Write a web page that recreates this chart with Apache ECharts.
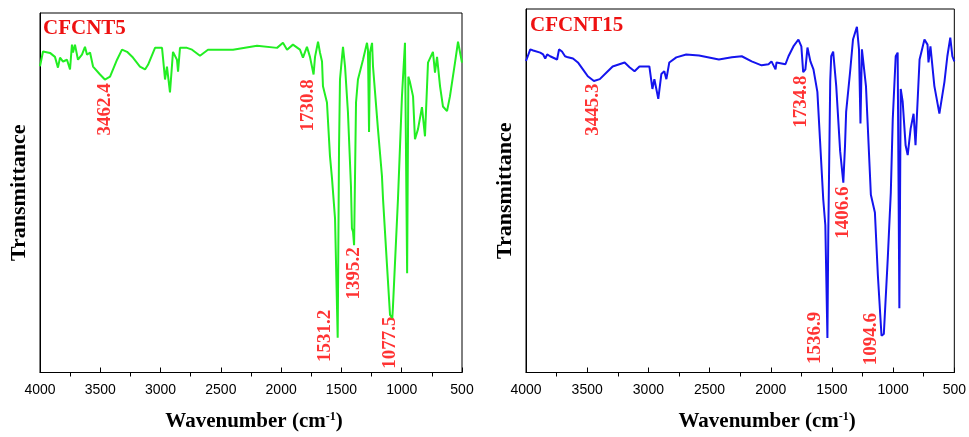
<!DOCTYPE html>
<html>
<head>
<meta charset="utf-8">
<title>FTIR CFCNT5 / CFCNT15</title>
<script src="https://cdn.jsdelivr.net/npm/echarts@6/dist/echarts.min.js"></script>
<style>
    html, body {margin: 0; padding: 0; background: #fff;}
    #chart {width: 969px; height: 437px;}
</style>
</head>
<body>
<div id="chart"></div>
<script>
// 曲线数据：波数 (cm-1) 和透过率(任意单位, 0-100)
var wn5 = [4000, 3975, 3917, 3876, 3851, 3834, 3809, 3776, 3751, 3735, 3726, 3710, 3685, 3652, 3627, 3610, 3585, 3560, 3502, 3462,
    3419, 3361, 3320, 3278, 3229, 3171, 3129, 3104, 3046, 2988, 2980, 2963, 2947, 2922, 2897, 2864, 2855, 2839, 2781, 2739,
    2673, 2607, 2399, 2200, 2034, 1985, 1951, 1902, 1844, 1819, 1786, 1761, 1731, 1719, 1694, 1678, 1661, 1653, 1620, 1595,
    1578, 1553, 1531, 1520, 1512, 1495, 1487, 1470, 1446, 1421, 1413, 1404, 1395, 1379, 1363, 1321, 1288, 1280, 1271, 1263,
    1246, 1238, 1197, 1164, 1155, 1122, 1097, 1078, 1073, 1031, 998, 973, 962, 955, 945, 931, 906, 890, 865, 832,
    807, 782, 741, 724, 707, 682, 658, 624, 600, 558, 533, 500];
var t5 = [85.2, 89.3, 88.9, 87.8, 84.8, 87.6, 86.5, 87.0, 84.3, 91.2, 89.0, 91.2, 87.0, 88.4, 90.6, 88.4, 89.0, 85.1, 82.9, 81.5,
    82.3, 87.0, 89.8, 89.2, 87.6, 85.1, 84.3, 85.6, 90.3, 90.3, 87.6, 81.5, 85.1, 77.9, 89.2, 87.0, 83.7, 90.3, 90.3, 89.8,
    88.1, 89.8, 89.8, 90.9, 90.3, 91.7, 89.8, 91.2, 89.8, 87.6, 90.6, 87.8, 82.9, 87.8, 92.0, 89.0, 86.5, 79.6, 75.1, 60.2,
    53.9, 42.8, 9.7, 62.2, 81.5, 87.8, 90.6, 85.1, 72.4, 51.9, 40.1, 39.2, 35.4, 75.1, 81.5, 87.0, 91.7, 89.8, 66.9, 89.0,
    91.7, 85.1, 67.7, 54.7, 48.3, 29.8, 16.0, 15.2, 18.0, 48.3, 76.8, 91.7, 91.7, 27.6, 82.3, 80.7, 76.8, 64.9, 67.7, 73.8,
    65.7, 86.2, 89.2, 83.4, 87.8, 79.6, 74.0, 72.7, 76.8, 86.2, 92.0, 86.2];

var wn15 = [4000, 3965, 3941, 3884, 3860, 3843, 3827, 3803, 3746, 3730, 3706, 3681, 3657, 3616, 3576, 3535, 3495, 3445, 3397, 3340,
    3292, 3194, 3154, 3113, 3073, 2992, 2967, 2951, 2919, 2894, 2870, 2853, 2829, 2772, 2691, 2586, 2424, 2318, 2237, 2156,
    2075, 2018, 1994, 1961, 1953, 1880, 1855, 1815, 1774, 1750, 1735, 1717, 1700, 1676, 1651, 1619, 1571, 1554, 1537, 1530,
    1514, 1506, 1490, 1465, 1433, 1407, 1393, 1384, 1352, 1328, 1296, 1279, 1267, 1255, 1222, 1182, 1149, 1125, 1095, 1076,
    1044, 1019, 1003, 979, 963, 949, 938, 922, 898, 881, 857, 833, 817, 784, 760, 744, 719, 711, 695, 663,
    622, 614, 581, 557, 533, 516, 500];
var t15 = [85.7, 88.9, 88.6, 88.0, 87.5, 86.4, 87.5, 87.0, 86.1, 88.9, 88.3, 87.0, 86.7, 86.4, 85.3, 83.4, 81.5, 80.2, 80.7, 82.6,
    84.2, 85.3, 84.0, 82.9, 84.2, 84.2, 78.0, 80.7, 75.3, 82.1, 82.9, 80.7, 85.3, 86.7, 87.5, 87.2, 86.1, 86.7, 87.0, 85.6,
    84.5, 84.8, 85.6, 83.4, 85.3, 84.8, 87.0, 89.7, 91.6, 89.7, 82.6, 83.4, 89.4, 85.6, 83.4, 77.2, 47.6, 40.5, 9.5, 37.8,
    80.2, 87.0, 88.3, 78.8, 60.9, 52.2, 62.5, 71.7, 82.6, 91.6, 95.1, 88.9, 68.5, 88.9, 78.8, 48.9, 44.0, 26.9, 10.1, 10.6,
    31.3, 49.5, 69.8, 87.0, 88.0, 17.7, 78.0, 74.5, 62.5, 59.8, 67.1, 71.2, 62.5, 86.1, 89.4, 91.6, 90.2, 85.3, 89.7, 78.8,
    71.2, 71.7, 79.9, 87.0, 92.1, 87.0, 85.6];

var xTicks = [500, 4000, 500];   // min, max, interval
var peaks5 = ['3462.4', '1730.8', '1531.2', '1395.2', '1077.5'];
var peaks15 = ['3445.3', '1734.8', '1406.6', '1536.9', '1094.6'];
var names = ['CFCNT5', 'CFCNT15'];

// 标注文字放置位置 [波数, 透过率]
var peakPos5 = [[3462, 73.2], [1777, 74.3], [1636, 10.2], [1396, 27.6], [1097, 8.3]];
var peakPos15 = [[3454, 72.3], [1750, 74.5], [1409, 44.0], [1636, 9.5], [1180, 9.2]];

var serif = "'Liberation Serif', 'Times New Roman', serif";

function pairs(xs, ys) {
    return xs.map(function (x, i) { return [x, ys[i]]; });
}
function peakData(pos, txt) {
    return pos.map(function (p, i) { return {value: p, name: txt[i]}; });
}

function makeX(idx, shift) {
    return {
        gridIndex: idx,
        type: 'value',
        inverse: true,
        min: xTicks[0],
        max: xTicks[1],
        interval: xTicks[2],
        axisLine: {lineStyle: {color: '#000', width: 1}},
        axisTick: {inside: true, length: 5, lineStyle: {color: '#000'}},
        minorTick: {show: true, splitNumber: 2, length: -4, lineStyle: {color: '#000'}},
        splitLine: {show: false},
        axisLabel: {
            color: '#000', fontSize: 14, fontFamily: "'Liberation Sans', Arial, sans-serif", margin: 11,
            formatter: function (v) { return String(v); }
        },
        name: '{a|Wavenumber (cm}{b|-1}{a|)}',
        nameLocation: 'middle',
        nameGap: 38,
        nameTextStyle: {
            padding: [0, 0, 0, shift],
            rich: {
                a: {fontFamily: serif, fontWeight: 'bold', fontSize: 21, color: '#000'},
                b: {fontFamily: serif, fontWeight: 'bold', fontSize: 12, color: '#000', verticalAlign: 'top', padding: [0, 0, 10, 0]}
            }
        }
    };
}

function makeY(idx) {
    return {
        gridIndex: idx,
        type: 'value',
        min: 0,
        max: 100,
        axisLine: {show: true, lineStyle: {color: '#000'}},
        axisTick: {show: false},
        axisLabel: {show: false},
        splitLine: {show: false},
        name: 'Transmittance',
        nameLocation: 'middle',
        nameGap: 10,
        nameTextStyle: {fontFamily: serif, fontWeight: 'bold', fontSize: 22, color: '#000'}
    };
}

function peakSeries(idx, pos, txt) {
    return {
        type: 'scatter',
        xAxisIndex: idx,
        yAxisIndex: idx,
        symbolSize: 1,
        itemStyle: {color: 'rgba(0,0,0,0)'},
        silent: true,
        label: {
            show: true,
            position: 'inside',
            rotate: 90,
            formatter: '{b}',
            color: '#ff0000',
            fontFamily: serif,
            fontWeight: 'bold',
            fontSize: 19
        },
        data: peakData(pos, txt)
    };
}

var myChart = echarts.init(document.getElementById('chart'));
var option = {
    animation: false,
    title: [
        {text: names[0], left: 43, top: 18, padding: 0,
            textStyle: {color: '#ee1111', fontFamily: serif, fontWeight: 'bold', fontSize: 21}},
        {text: names[1], left: 530, top: 15, padding: 0,
            textStyle: {color: '#ee1111', fontFamily: serif, fontWeight: 'bold', fontSize: 21}}
    ],
    grid: [
        {left: 40, top: 13, width: 422, height: 362, show: true, borderColor: '#000', borderWidth: 1},
        {left: 526, top: 9, width: 431, height: 368, show: true, borderColor: '#000', borderWidth: 1}
    ],
    xAxis: [makeX(0, 6), makeX(1, 54)],
    yAxis: [makeY(0), makeY(1)],
    series: [
        {
            type: 'line', xAxisIndex: 0, yAxisIndex: 0,
            data: pairs(wn5, t5), showSymbol: false,
            lineStyle: {color: '#22ee22', width: 2}
        },
        {
            type: 'line', xAxisIndex: 1, yAxisIndex: 1,
            data: pairs(wn15, t15), showSymbol: false,
            lineStyle: {color: '#1414ee', width: 2}
        },
        peakSeries(0, peakPos5, peaks5),
        peakSeries(1, peakPos15, peaks15)
    ]
};
myChart.setOption(option);
</script>
</body>
</html>
